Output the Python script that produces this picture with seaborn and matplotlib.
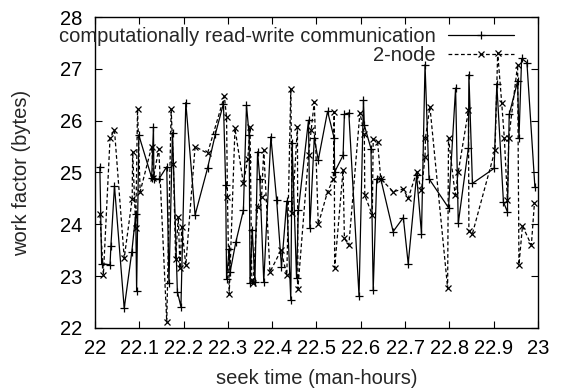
import matplotlib
matplotlib.use("Agg")
import matplotlib.pyplot as plt
import seaborn as sns

# series 1: "computationally read-write communication" (solid, +)
rw_x = [22.011, 22.015, 22.034, 22.036, 22.044, 22.066, 22.083, 22.092, 22.094, 22.099,
        22.128, 22.132, 22.133, 22.144, 22.162, 22.167, 22.175, 22.186, 22.194, 22.205,
        22.226, 22.254, 22.272, 22.290, 22.295, 22.297, 22.303, 22.305, 22.318, 22.335,
        22.342, 22.348, 22.350, 22.355, 22.361, 22.367, 22.372, 22.381, 22.397, 22.410,
        22.421, 22.433, 22.442, 22.445, 22.455, 22.459, 22.482, 22.485, 22.495, 22.504,
        22.525, 22.540, 22.541, 22.560, 22.563, 22.573, 22.596, 22.606, 22.608, 22.623,
        22.628, 22.636, 22.645, 22.673, 22.696, 22.707, 22.726, 22.737, 22.745, 22.754,
        22.798, 22.814, 22.820, 22.843, 22.844, 22.852, 22.901, 22.907, 22.922, 22.931,
        22.935, 22.954, 22.957, 22.963, 22.975, 22.993]
rw_y = [25.11, 23.24, 23.22, 23.59, 24.74, 22.38, 23.46, 24.19, 22.71, 25.72,
        24.90, 25.88, 24.88, 24.87, 25.11, 22.86, 25.77, 22.70, 22.41, 26.35,
        24.18, 25.08, 25.75, 26.33, 24.76, 22.95, 23.53, 23.08, 23.66, 24.27,
        26.30, 25.72, 22.86, 23.89, 22.89, 25.40, 24.88, 22.89, 25.69, 24.47,
        23.18, 24.45, 22.54, 25.56, 22.96, 24.27, 26.01, 23.92, 25.66, 25.24,
        26.18, 25.66, 25.01, 25.33, 26.12, 26.15, 22.62, 26.40, 25.91, 25.46,
        22.73, 24.88, 24.88, 23.86, 24.13, 23.24, 24.95, 23.82, 27.08, 24.88,
        24.32, 26.63, 24.02, 25.48, 26.89, 24.79, 25.08, 26.70, 24.43, 24.24,
        26.12, 26.76, 25.66, 27.20, 27.12, 24.72]

# series 2: "2-node" (dashed, x)
node_x = [22.011, 22.019, 22.034, 22.044, 22.066, 22.084, 22.085, 22.092, 22.096, 22.102,
          22.128, 22.132, 22.144, 22.162, 22.172, 22.177, 22.182, 22.188, 22.192, 22.196,
          22.205, 22.226, 22.254, 22.292, 22.297, 22.299, 22.303, 22.316, 22.335, 22.345,
          22.350, 22.354, 22.357, 22.367, 22.376, 22.381, 22.395, 22.420, 22.433, 22.442,
          22.445, 22.457, 22.458, 22.482, 22.488, 22.495, 22.504, 22.525, 22.538, 22.540,
          22.541, 22.560, 22.563, 22.573, 22.598, 22.608, 22.609, 22.626, 22.628, 22.638,
          22.645, 22.673, 22.696, 22.707, 22.726, 22.737, 22.745, 22.746, 22.756, 22.796,
          22.798, 22.813, 22.820, 22.843, 22.844, 22.852, 22.903, 22.909, 22.918, 22.924,
          22.931, 22.934, 22.954, 22.957, 22.965, 22.985, 22.992]
node_y = [24.19, 23.03, 25.66, 25.82, 23.35, 24.49, 25.40, 23.92, 26.22, 24.63,
          25.50, 24.90, 25.46, 22.12, 26.22, 25.17, 23.34, 24.14, 23.15, 23.95,
          23.21, 25.50, 25.37, 26.47, 26.07, 24.53, 22.65, 25.85, 24.79, 25.27,
          25.88, 22.92, 22.86, 24.34, 24.53, 25.43, 23.08, 23.50, 23.02, 26.62,
          24.21, 25.88, 22.76, 25.33, 25.82, 26.36, 24.00, 24.63, 24.87, 26.17,
          23.16, 25.05, 23.73, 23.60, 26.15, 25.75, 24.56, 24.18, 25.64, 25.58,
          24.88, 24.63, 24.68, 24.50, 25.01, 24.66, 25.30, 25.67, 26.27, 22.77,
          25.66, 24.57, 25.01, 26.20, 23.87, 23.82, 25.43, 27.31, 26.35, 25.66,
          24.47, 25.66, 27.08, 23.22, 23.97, 23.60, 24.42]

x_ticks = [22, 22.1, 22.2, 22.3, 22.4, 22.5, 22.6, 22.7, 22.8, 22.9, 23]
x_labels = ["22", "22.1", "22.2", "22.3", "22.4", "22.5", "22.6", "22.7", "22.8", "22.9", "23"]
y_ticks = [22, 23, 24, 25, 26, 27, 28]

sns.set_style("ticks")
plt.rcParams["font.family"] = ["Liberation Sans", "DejaVu Sans"]
FS = 14.5

fig = plt.figure(figsize=(5.63, 3.92), dpi=100)
ax = fig.add_axes([0.1687, 0.1633, 0.7869, 0.7933])

# seaborn defaults markeredgecolor to white, which hides + and x markers
sns.lineplot(x=rw_x, y=rw_y, sort=False, estimator=None, color="black",
             lw=0.9, marker="+", markersize=6, mew=0.9, mec="black", ax=ax,
             label="computationally read-write communication")
sns.lineplot(x=node_x, y=node_y, sort=False, estimator=None, color="black",
             lw=0.9, ls=(0, (3, 2)), marker="x", markersize=4.5, mew=0.9,
             mec="black", ax=ax, label="2-node")

ax.set_xlim(22, 23)
ax.set_ylim(22, 28)
ax.set_xticks(x_ticks)
ax.set_xticklabels(x_labels)
ax.set_yticks(y_ticks)
ax.tick_params(direction="in", length=5, width=0.8, top=True, right=True,
               labelsize=FS, colors="black")
ax.tick_params(axis="y", pad=9)
ax.tick_params(axis="x", pad=8)
for s in ax.spines.values():
    s.set_linewidth(1.0)
    s.set_color("black")

ax.set_xlabel("seek time (man-hours)", fontsize=FS, labelpad=8)
ax.set_ylabel("work factor (bytes)", fontsize=FS, labelpad=21)

# legend sits a little below the top frame, text spilling left past the axis
ax.legend(loc="upper right", bbox_to_anchor=(0.946, 0.968), frameon=False,
          markerfirst=False, fontsize=FS, handlelength=3.3, handletextpad=0.6,
          labelspacing=0.0, borderaxespad=0.0, borderpad=0.0, numpoints=1)

fig.savefig("out.png", dpi=100)
